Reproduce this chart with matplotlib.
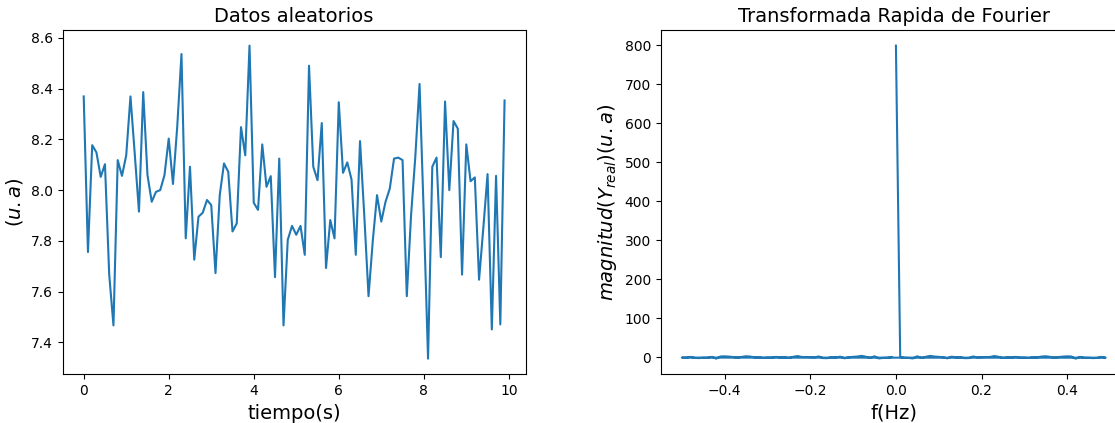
import numpy as np
import matplotlib
matplotlib.use('Agg')
import matplotlib.pyplot as plt


# time samples (s) and random data (u.a)
tiempo = [i / 10 for i in range(100)]
datos = [
    8.369, 7.756, 8.177, 8.148, 8.052, 8.102, 7.667, 7.467, 8.118, 8.056,
    8.137, 8.369, 8.144, 7.915, 8.386, 8.059, 7.954, 7.993, 8.000, 8.059,
    8.203, 8.024, 8.250, 8.536, 7.810, 8.092, 7.726, 7.895, 7.911, 7.961,
    7.941, 7.673, 7.980, 8.105, 8.072, 7.837, 7.869, 8.248, 8.137, 8.569,
    7.950, 7.922, 8.180, 8.013, 8.055, 7.657, 8.124, 7.467, 7.804, 7.859,
    7.824, 7.859, 7.745, 8.490, 8.092, 8.039, 8.264, 7.693, 7.882, 7.810,
    8.346, 8.068, 8.109, 8.042, 7.745, 8.193, 7.900, 7.582, 7.800, 7.980,
    7.876, 7.954, 8.006, 8.124, 8.128, 8.118, 7.582, 7.900, 8.130, 8.418,
    7.900, 7.336, 8.092, 8.128, 7.736, 8.349, 8.000, 8.272, 8.242, 7.667,
    8.180, 8.035, 8.050, 7.647, 7.850, 8.063, 7.451, 8.056, 7.471, 8.353,
]

# right panel: real part of the FFT of the same data (unshifted order)
dt = 1.0
freqs = np.fft.fftfreq(len(datos), d=dt)
Y_real = np.fft.fft(datos).real

fig = plt.figure(figsize=(11.15, 4.23), dpi=100)

ax1 = fig.add_axes([0.0562, 0.1151, 0.4152, 0.814])
ax1.plot(tiempo, datos, color='tab:blue', lw=1.5)
ax1.set_title('Datos aleatorios', fontsize=14)
ax1.set_xlabel('tiempo(s)', fontsize=14)
ax1.set_ylabel('$(u.a)$', fontsize=14)

ax2 = fig.add_axes([0.5926, 0.1151, 0.418, 0.814])
ax2.plot(freqs, Y_real, color='tab:blue', lw=1.5)
ax2.set_title('Transformada Rapida de Fourier', fontsize=14)
ax2.set_xlabel('f(Hz)', fontsize=14)
ax2.set_ylabel('$magnitud(Y_{real})(u.a)$', fontsize=14)

fig.savefig('out.png', dpi=100)
